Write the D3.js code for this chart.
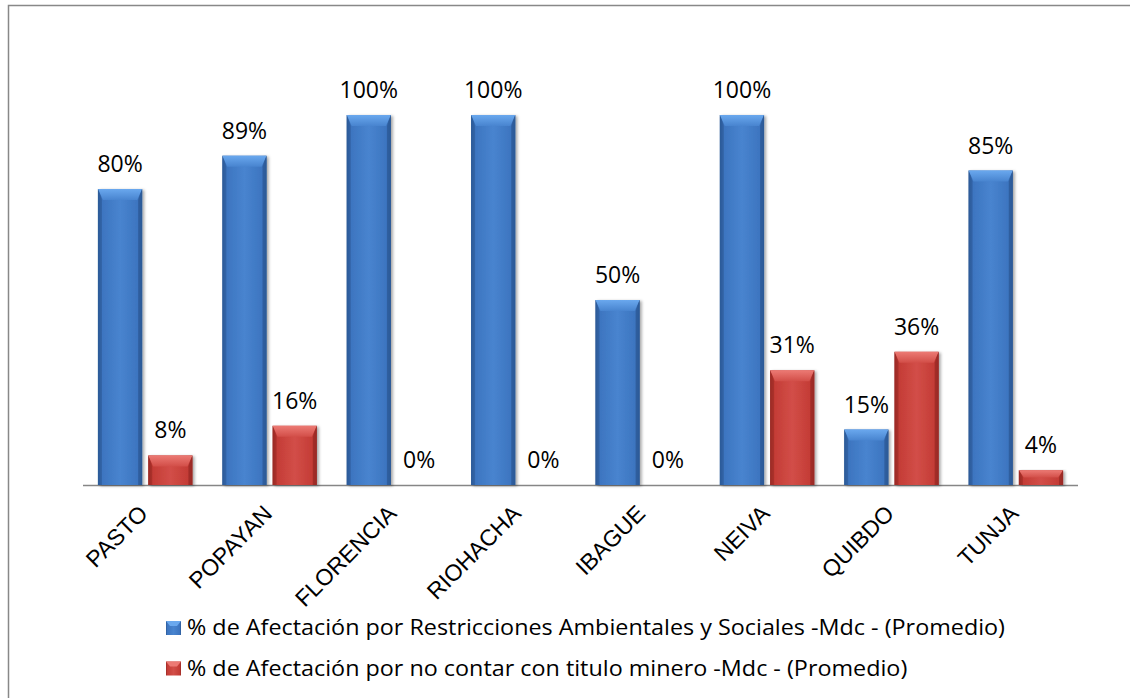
<!DOCTYPE html>
<html><head><meta charset="utf-8">
<script src="https://cdn.jsdelivr.net/npm/d3@7"></script>
<style>html,body{margin:0;background:#fff;overflow:hidden}svg{display:block}</style>
</head><body><svg id="c" width="1130" height="698"></svg>
<script>
const categories = ["PASTO","POPAYAN","FLORENCIA","RIOHACHA","IBAGUE","NEIVA","QUIBDO","TUNJA"];
const restricciones = [80, 89, 100, 100, 50, 100, 15, 85];
const tituloMinero = [8, 16, 0, 0, 0, 31, 36, 4];
const seriesNames = [
  "% de Afectación por Restricciones Ambientales y Sociales -Mdc - (Promedio)",
  "% de Afectación por no contar con titulo minero -Mdc - (Promedio)"
];
const seriesKeys = ["a","b"];

const svg = d3.select("#c");
const left = 83, right = 1078, axisY = 485, topY = 115;

svg.append("path").attr("d","M8.5,800 L8.5,5.5 L1200,5.5")
  .attr("fill","none").attr("stroke","#888").attr("stroke-width",1.5);

const x = d3.scaleBand().domain(categories).range([left,right]).paddingInner(0.24).paddingOuter(0.12);
const xs = d3.scaleBand().domain(seriesKeys).range([0,x.bandwidth()]).paddingInner(0.12);
const y = d3.scaleLinear().domain([0,100]).range([axisY,topY]);

const defs = svg.append("defs");
const palettes = {
  a: {edge:"#2c5a97", mid:"#3d75c0", light:"#4884cf", bevel:"#6aa8ee"},
  b: {edge:"#9a2a25", mid:"#c43c36", light:"#d24e48", bevel:"#ec7a74"}
};
for (const k of seriesKeys) {
  const p = palettes[k];
  const g = defs.append("linearGradient").attr("id","g"+k).attr("x1",0).attr("x2",1).attr("y1",0).attr("y2",0);
  g.append("stop").attr("offset","0%").attr("stop-color",p.edge);
  g.append("stop").attr("offset","10%").attr("stop-color",p.mid);
  g.append("stop").attr("offset","50%").attr("stop-color",p.light);
  g.append("stop").attr("offset","90%").attr("stop-color",p.mid);
  g.append("stop").attr("offset","100%").attr("stop-color",p.edge);
  const gb = defs.append("linearGradient").attr("id","gb"+k).attr("x1",0).attr("x2",0).attr("y1",0).attr("y2",1);
  gb.append("stop").attr("offset","0%").attr("stop-color",p.bevel);
  gb.append("stop").attr("offset","100%").attr("stop-color",p.light);
}
const f = defs.append("filter").attr("id","sh").attr("x","-20%").attr("y","-5%").attr("width","150%").attr("height","115%");
f.append("feDropShadow").attr("dx",2).attr("dy",1).attr("stdDeviation",1.5).attr("flood-color","#000").attr("flood-opacity",0.35);

const data = [];
categories.forEach((c,i)=>{
  data.push({c, k:"a", v:restricciones[i]});
  data.push({c, k:"b", v:tituloMinero[i]});
});

svg.append("line").attr("x1",left).attr("x2",right).attr("y1",axisY+0.5).attr("y2",axisY+0.5)
  .attr("stroke","#868686").attr("stroke-width",1.5);

const bars = svg.append("g").selectAll("g").data(data.filter(d=>d.v>0)).join("g")
  .attr("transform",d=>`translate(${x(d.c)+xs(d.k)},0)`);
const bw = xs.bandwidth();
bars.append("rect").attr("x",0).attr("y",d=>y(d.v)).attr("width",bw).attr("height",d=>axisY-y(d.v))
  .attr("fill",d=>`url(#g${d.k})`).attr("filter","url(#sh)");
bars.append("path").attr("d",d=>{
  const t = y(d.v), h = Math.min(11,(axisY-t)/2), s = 5;
  return `M0,${t} L${bw},${t} L${bw-s},${t+h} L${s},${t+h} Z`;
}).attr("fill",d=>`url(#gb${d.k})`);
bars.append("path").attr("d",d=>{
  const t = y(d.v), h = Math.min(11,(axisY-t)/2), s = 4;
  return `M0,${t} L${s},${t+h} L${s},${axisY} L0,${axisY} Z`;
}).attr("fill",d=>palettes[d.k].edge).attr("opacity",0.55);
bars.append("path").attr("d",d=>{
  const t = y(d.v), h = Math.min(11,(axisY-t)/2), s = 4;
  return `M${bw},${t} L${bw-s},${t+h} L${bw-s},${axisY} L${bw},${axisY} Z`;
}).attr("fill",d=>palettes[d.k].edge).attr("opacity",0.75);

svg.append("g").selectAll("text").data(data).join("text")
  .attr("x",d=>x(d.c)+xs(d.k)+bw/2).attr("y",d=>y(d.v)-17)
  .attr("text-anchor","middle").attr("font-family","'Open Sans', sans-serif").attr("font-size",23)
  .attr("fill","#000").text(d=>d.v+"%");

const xAxis = d3.axisBottom(x).tickSize(0).tickPadding(0);
const ax = svg.append("g").attr("transform",`translate(0,${axisY})`).call(xAxis);
ax.select(".domain").remove();
ax.selectAll("text").attr("font-family","'Liberation Sans', Arial, sans-serif").attr("font-size",23)
  .attr("fill","#000").attr("text-anchor","end").attr("dy",0).attr("y",0).attr("x",0)
  .attr("transform","translate(4,30) rotate(-45)");

const leg = svg.append("g");
seriesKeys.forEach((k,i)=>{
  const yy = 628 + i*40.5;
  leg.append("rect").attr("x",166).attr("y",yy-7).attr("width",15).attr("height",14).attr("fill",`url(#g${k})`);
  leg.append("path").attr("d",`M166,${yy-7} L181,${yy-7} L177,${yy-2} L170,${yy-2} Z`).attr("fill",palettes[k].bevel);
  leg.append("text").attr("x",187).attr("y",yy).attr("dy","0.35em")
    .attr("font-family","'Open Sans', sans-serif").attr("font-size",21).attr("fill","#000")
    .text(seriesNames[i]);
});
const legTexts = leg.selectAll("text").nodes();
const scaleW = (1005-187) / legTexts[0].getComputedTextLength();
legTexts.forEach(n=>{
  const w = n.getComputedTextLength();
  n.setAttribute("textLength", w*scaleW);
  n.setAttribute("lengthAdjust","spacingAndGlyphs");
});
</script></body></html>
